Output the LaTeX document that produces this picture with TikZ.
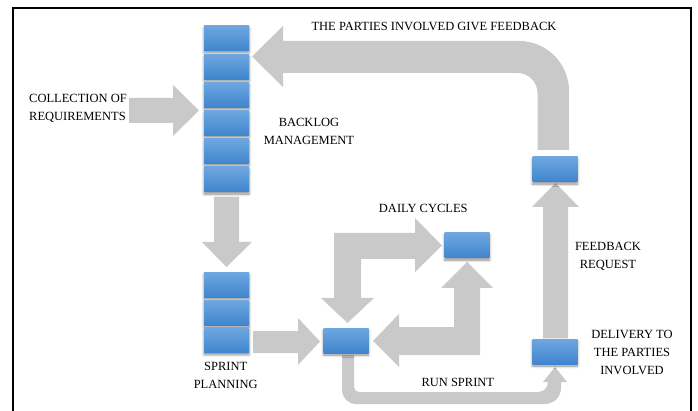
\documentclass[tikz,border=0pt]{standalone}
\usepackage{fontspec}
\setmainfont{Liberation Serif}
\usetikzlibrary{shadows.blur}
\definecolor{arrowgray}{RGB}{201,201,201}
\definecolor{bluetop}{RGB}{110,167,224}
\definecolor{bluebot}{RGB}{63,133,205}
\begin{document}
\begin{tikzpicture}[x=1pt,y=-1pt,
  blk/.style={minimum width=45pt,minimum height=25pt,inner sep=0pt,
    top color=bluetop,bottom color=bluebot,
    blur shadow={shadow xshift=0pt,shadow yshift=-2pt,shadow blur radius=2.5pt,shadow opacity=45}},
  garrow/.style={fill=arrowgray},
  lbl/.style={inner sep=0pt,font=\fontsize{12.5}{18}\selectfont,align=center}]
\useasboundingbox (0,0) rectangle (698,411);
% frame
\draw[line width=2pt] (13,413) -- (13,8) -- (691,8) -- (691,413);

% ---- grey block arrows ----
% collection of requirements -> backlog
\fill[garrow] (129,98) -- (173,98) -- (173,85) -- (199,110.5) -- (173,136) -- (173,123) -- (129,123) -- cycle;
% backlog -> sprint planning
\fill[garrow] (214,197) -- (239,197) -- (239,242) -- (252,242) -- (226.5,267) -- (202,242) -- (214,242) -- cycle;
% sprint planning -> run node
\fill[garrow] (253,331) -- (298,331) -- (298,318) -- (320,341.5) -- (298,365) -- (298,353) -- (253,353) -- cycle;
% daily cycles, upper L arrow
\fill[garrow] (334,233) -- (415,233) -- (415,218) -- (442,245.5) -- (415,272) -- (415,259)
  -- (361,259) -- (361,298) -- (374,298) -- (347.5,323) -- (321,298) -- (334,298) -- cycle;
% daily cycles, lower L arrow
\fill[garrow] (480,355) -- (399,355) -- (399,367) -- (373,341) -- (399,314) -- (399,327)
  -- (454,327) -- (454,288) -- (441,288) -- (467,262) -- (493,288) -- (480,288) -- cycle;
% run sprint (thin U arrow)
\fill[garrow] (342,355) -- (342,390) .. controls (342,397.7) and (348.3,404) .. (356,404)
  -- (545,404) .. controls (553.8,404) and (561,396.8) .. (561,388)
  -- (561,382) -- (567,382) -- (555,367) -- (543,382) -- (548,382)
  .. controls (548,387.5) and (543.5,392) .. (538,392)
  -- (359,392) .. controls (356.2,392) and (354,389.8) .. (354,387) -- (354,355) -- cycle;
% feedback request (delivery -> feedback)
\fill[garrow] (543,338) -- (543,207) -- (532,207) -- (555.5,183) -- (579,207) -- (568,207) -- (568,338) -- cycle;
% parties give feedback (big bent arrow)
\fill[garrow] (537.5,150) -- (537.5,93) .. controls (537.5,82) and (528.5,73) .. (517.5,73)
  -- (283,73) -- (283,87) -- (252,56.5) -- (283,26) -- (283,41)
  -- (519,41) .. controls (546.6,41) and (569,63.4) .. (569,91) -- (569,150) -- cycle;

% ---- blue blocks ----
\node[blk] (bl1) at (226.5,38.5) {};
\node[blk] (bl2) at (226.5,66.7) {};
\node[blk] (bl3) at (226.5,94.9) {};
\node[blk] (bl4) at (226.5,123.1) {};
\node[blk] (bl5) at (226.5,151.3) {};
\node[blk] (bl6) at (226.5,179.5) {};
\node[blk] (sp1) at (226.5,285) {};
\node[blk] (sp2) at (226.5,312.7) {};
\node[blk] (sp3) at (226.5,340.4) {};
\node[blk] (run) at (346,340.5) {};
\node[blk] (daily) at (467,245.5) {};
\node[blk] (fb) at (555,169.5) {};
\node[blk] (deliv) at (555,351.5) {};

% ---- labels ----
\node[lbl,anchor=north] (tfeed) at (434,22.5) {THE PARTIES INVOLVED GIVE FEEDBACK};
\node[lbl,anchor=north west,align=left] (tcoll) at (29,94.3) {COLLECTION OF\\REQUIREMENTS};
\node[lbl,anchor=north] (tback) at (309,118.3) {BACKLOG\\MANAGEMENT};
\node[lbl,anchor=north] (tsprint) at (225.7,362.5) {SPRINT\\PLANNING};
\node[lbl,anchor=north] (tdaily) at (423.3,204) {DAILY CYCLES};
\node[lbl,anchor=north] (treq) at (608,241.7) {FEEDBACK\\REQUEST};
\node[lbl,anchor=north] (tdeliv) at (632,330) {DELIVERY TO\\THE PARTIES\\INVOLVED};
\node[lbl,anchor=north] (trun) at (457.8,378.3) {RUN SPRINT};
\end{tikzpicture}
\end{document}
